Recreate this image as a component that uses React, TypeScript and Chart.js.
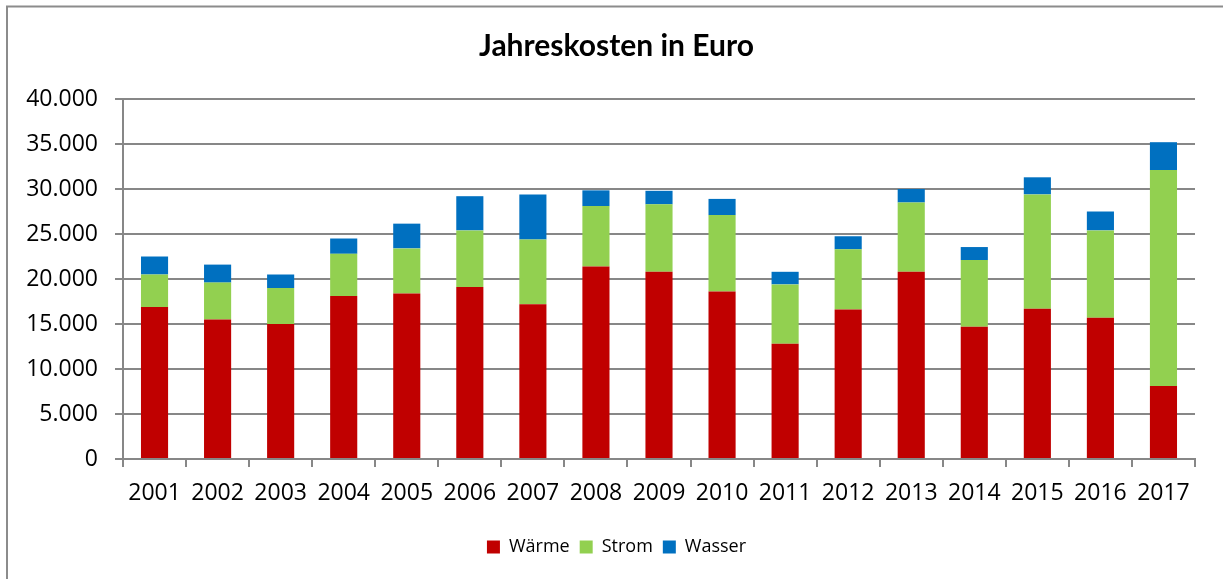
import React, { useEffect, useRef } from "react";
import { Chart, registerables } from "chart.js";

Chart.register(...registerables);

const years = ["2001","2002","2003","2004","2005","2006","2007","2008","2009","2010","2011","2012","2013","2014","2015","2016","2017"];
const waerme = [16900, 15500, 15000, 18100, 18400, 19100, 17200, 21400, 20800, 18600, 12800, 16600, 20800, 14700, 16700, 15700, 8100];
const strom = [3600, 4100, 4000, 4700, 5000, 6300, 7200, 6700, 7500, 8500, 6600, 6700, 7700, 7400, 12700, 9700, 24000];
const wasser = [2000, 2000, 1500, 1700, 2750, 3800, 5000, 1750, 1500, 1800, 1400, 1450, 1500, 1450, 1900, 2100, 3100];

const W = 1223;
const H = 579;
const FONT = "'Open Sans', sans-serif";
const TITLE_FONT = "Lato, 'Open Sans', sans-serif";

const fmt = (v: number) => String(Math.round(v)).replace(/\B(?=(\d{3})+(?!\d))/g, ".");

const frame = {
  id: "frame",
  afterDraw(chart: any) {
    const ctx = chart.ctx;
    ctx.save();
    ctx.strokeStyle = "#8c8c8c";
    ctx.lineWidth = 2;
    ctx.beginPath();
    ctx.moveTo(7, H + 2);
    ctx.lineTo(7, 6.5);
    ctx.lineTo(W + 2, 6.5);
    ctx.stroke();
    ctx.restore();
  },
};

export default function App() {
  const ref = useRef<HTMLCanvasElement | null>(null);
  useEffect(() => {
    if (!ref.current) return;
    const gridColor = "#878787";
    const chart = new Chart(ref.current, {
      type: "bar",
      data: {
        labels: years,
        datasets: [
          { label: "Wärme", data: waerme, backgroundColor: "#C00000" },
          { label: "Strom", data: strom, backgroundColor: "#92D050" },
          { label: "Wasser", data: wasser, backgroundColor: "#0070C0" },
        ],
      },
      options: {
        animation: false,
        responsive: false,
        devicePixelRatio: 1,
        layout: { padding: { left: 10, right: 0, top: 0, bottom: 13 } },
        datasets: { bar: { categoryPercentage: 1, barPercentage: 0.43 } } as any,
        plugins: {
          title: {
            display: true,
            text: "Jahreskosten in Euro",
            color: "#000",
            font: { family: TITLE_FONT, size: 30, weight: "bold", lineHeight: 1.2 },
            padding: { top: 28, bottom: 35 },
          },
          legend: {
            position: "bottom",
            labels: {
              color: "#000",
              font: { family: FONT, size: 18 },
              boxWidth: 13,
              boxHeight: 13,
              padding: 10,
            },
          },
          tooltip: { enabled: false },
        },
        scales: {
          x: {
            stacked: true,
            afterFit: (s: any) => { s.height = 69; },
            grid: { display: true, drawOnChartArea: false, drawTicks: true, tickLength: 8, color: gridColor, lineWidth: 2, offset: true },
            border: { display: true, color: gridColor, width: 2 },
            ticks: { color: "#000", font: { family: FONT, size: 23 }, padding: 13, maxRotation: 0, autoSkip: false },
          },
          y: {
            stacked: true,
            min: 0,
            max: 40000,
            afterFit: (s: any) => { s.width = 113; },
            grid: { color: gridColor, lineWidth: 2, tickLength: 8, drawTicks: true },
            border: { display: true, color: gridColor, width: 2 },
            ticks: { stepSize: 5000, color: "#000", font: { family: FONT, size: 23 }, padding: 17, callback: (v: any) => fmt(Number(v)) },
          },
          yRight: {
            type: "linear",
            position: "right",
            display: true,
            afterFit: (s: any) => { s.width = 28; },
            grid: { display: false, drawOnChartArea: false, drawTicks: false },
            border: { display: false },
            ticks: { display: false },
          },
        },
      },
      plugins: [frame],
    });
    return () => chart.destroy();
  }, []);
  return (
    <canvas
      ref={ref}
      width={W}
      height={H}
      style={{ position: "fixed", left: 0, top: 0, width: W, height: H, display: "block" }}
    />
  );
}
